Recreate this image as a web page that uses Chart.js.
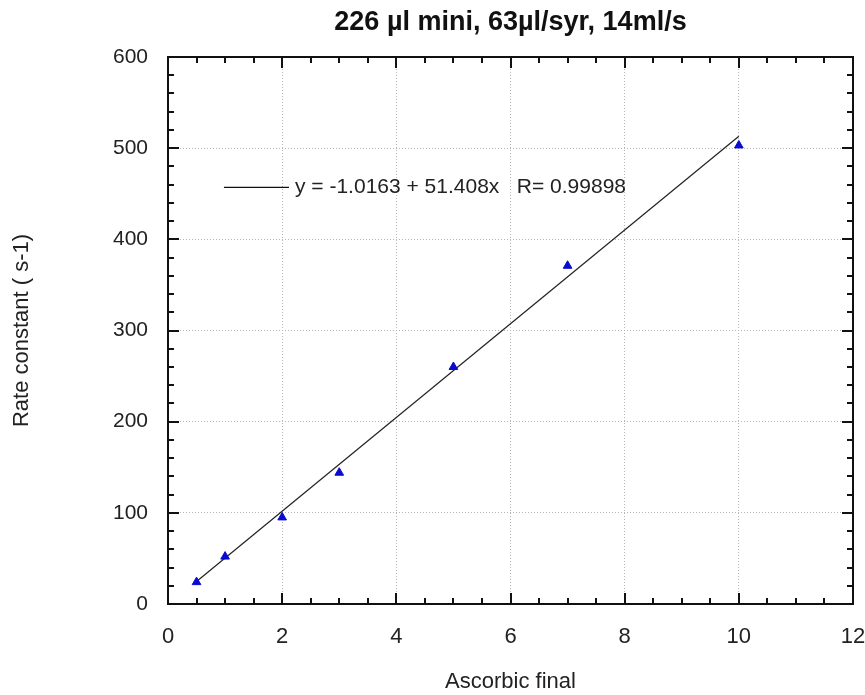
<!DOCTYPE html>
<html>
<head>
<meta charset="utf-8">
<script src="https://cdn.jsdelivr.net/npm/chart.js@4"></script>
<style>
  html, body { margin: 0; padding: 0; background: #fff; }
  #wrap { width: 865px; height: 695px; }
</style>
</head>
<body>
<div id="wrap"><canvas id="rateChart"></canvas></div>
<script>
// measured points
const ascorbic = [0.5, 1, 2, 3, 5, 7, 10];
const rateConst = [24, 52, 95, 144, 260, 371, 503];

// fitted line endpoints
const fitX = [0.5, 10];
const fitY = [24.7, 513.1];

const xTicks = [0, 2, 4, 6, 8, 10, 12];
const yTicks = [0, 100, 200, 300, 400, 500, 600];

const chartTitle = "226 µl mini, 63µl/syr, 14ml/s";
const fitLabel = "y = -1.0163 + 51.408x   R= 0.99898";

const FONT = "'Liberation Sans', Arial, sans-serif";

// box around the plot, inward ticks on all four sides, title and fit legend
const frameTicks = {
  id: "frameTicks",
  afterDatasetsDraw(chart) {
    const { ctx, chartArea: a, scales } = chart;
    const x = scales.x, y = scales.y;
    ctx.save();
    ctx.strokeStyle = "#111";
    ctx.lineWidth = 2;
    ctx.beginPath();
    for (let v = 0.5; v < 12; v += 0.5) {
      const len = v % 2 === 0 ? 11 : 6;
      const px = Math.round(x.getPixelForValue(v));
      ctx.moveTo(px, a.bottom); ctx.lineTo(px, a.bottom - len);
      ctx.moveTo(px, a.top); ctx.lineTo(px, a.top + len);
    }
    for (let v = 20; v < 600; v += 20) {
      const len = v % 100 === 0 ? 11 : 6;
      const py = Math.round(y.getPixelForValue(v));
      ctx.moveTo(a.left, py); ctx.lineTo(a.left + len, py);
      ctx.moveTo(a.right, py); ctx.lineTo(a.right - len, py);
    }
    ctx.stroke();
    ctx.strokeRect(a.left, a.top, a.right - a.left, a.bottom - a.top);

    // title, centred over the plot box
    ctx.fillStyle = "#111";
    ctx.font = "bold 27px " + FONT;
    ctx.textAlign = "center";
    ctx.textBaseline = "middle";
    ctx.fillText(chartTitle, (a.left + a.right) / 2, 23);

    // legend for the fit line
    const lx = x.getPixelForValue(0.98), rx = x.getPixelForValue(2.12);
    const ly = y.getPixelForValue(457);
    ctx.lineWidth = 1.2;
    ctx.beginPath();
    ctx.moveTo(lx, ly); ctx.lineTo(rx, ly);
    ctx.stroke();
    ctx.fillStyle = "#222";
    ctx.font = "21px " + FONT;
    ctx.textAlign = "left";
    ctx.fillText(fitLabel, rx + 6, ly);
    ctx.restore();
  }
};

const ctx = document.getElementById("rateChart").getContext("2d");

new Chart(ctx, {
  type: "scatter",
  data: {
    datasets: [
      {
        label: "fit",
        data: fitX.map((v, i) => ({ x: v, y: fitY[i] })),
        showLine: true,
        borderColor: "#222",
        borderWidth: 1.2,
        pointRadius: 0,
        fill: false,
        order: 2,
      },
      {
        label: "Rate constant",
        data: ascorbic.map((v, i) => ({ x: v, y: rateConst[i] })),
        pointStyle: "triangle",
        pointRadius: 5,
        backgroundColor: "#0a0ad0",
        borderColor: "#0a0ad0",
        borderWidth: 1,
        order: 1,
      },
    ],
  },
  options: {
    responsive: true,
    maintainAspectRatio: false,
    animation: false,
    layout: { padding: { top: 57, left: 0, right: 12, bottom: 0 } },
    plugins: {
      legend: { display: false },
      tooltip: { enabled: false },
      title: { display: false },
    },
    scales: {
      x: {
        type: "linear",
        min: 0,
        max: 12,
        afterBuildTicks(scale) {
          scale.ticks = xTicks.map((v) => ({ value: v }));
        },
        afterFit(scale) {
          scale.height = 91;
          scale.paddingLeft = 0;
          scale.paddingRight = 0;
        },
        grid: { color: "#b5b5b5", lineWidth: 1, drawTicks: false },
        border: { display: false, dash: [1, 2] },
        ticks: {
          color: "#222",
          padding: 20,
          font: { family: FONT, size: 22 },
        },
        title: {
          display: true,
          text: "Ascorbic final",
          color: "#222",
          font: { family: FONT, size: 22 },
          padding: { top: 0, bottom: 0 },
        },
      },
      y: {
        type: "linear",
        min: 0,
        max: 600,
        afterBuildTicks(scale) {
          scale.ticks = yTicks.map((v) => ({ value: v }));
        },
        afterFit(scale) {
          scale.width = 168;
          scale.paddingTop = 0;
          scale.paddingBottom = 0;
        },
        grid: { color: "#b5b5b5", lineWidth: 1, drawTicks: false },
        border: { display: false, dash: [1, 2] },
        ticks: {
          color: "#222",
          padding: 20,
          font: { family: FONT, size: 21 },
        },
        title: {
          display: true,
          text: "Rate constant ( s-1)",
          color: "#222",
          font: { family: FONT, size: 22 },
          padding: { top: 9 },
        },
      },
    },
  },
  plugins: [frameTicks],
});
</script>
</body>
</html>
